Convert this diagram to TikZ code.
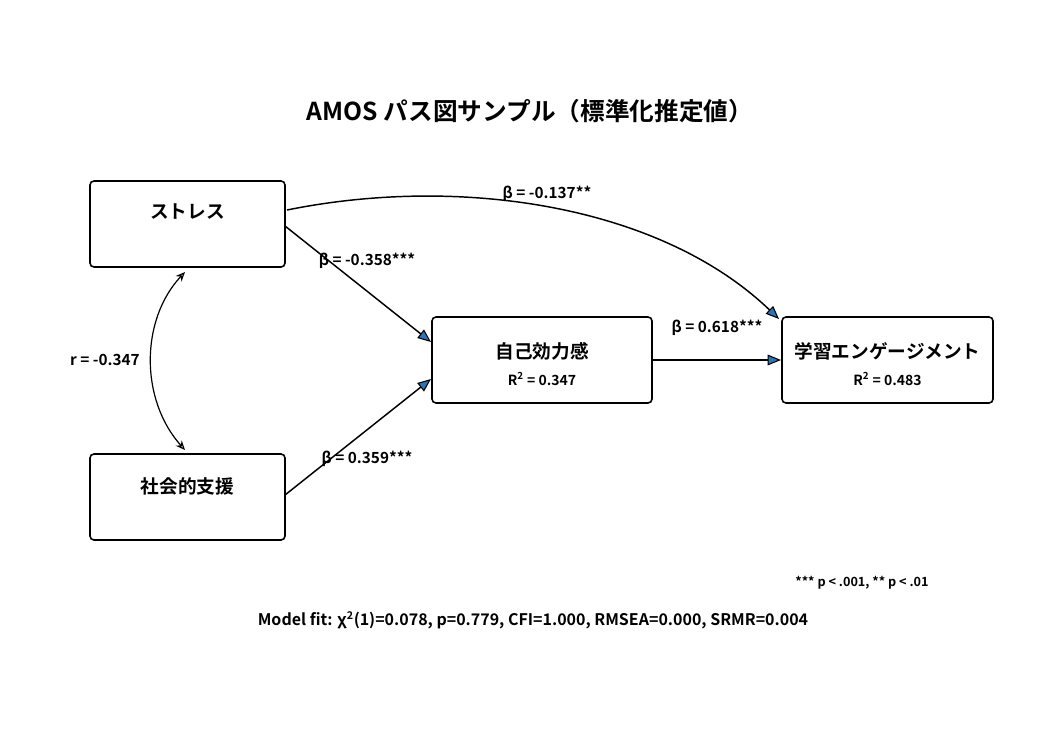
\documentclass[tikz,border=0pt]{standalone}
\usepackage{fontspec}
\setmainfont{Noto Sans CJK JP}[BoldFont={* Bold}]
\usetikzlibrary{arrows.meta}
\definecolor{ahead}{HTML}{2E75B6}
\begin{document}
\begin{tikzpicture}[x=0.75pt,y=-0.75pt,
 box/.style={draw,line width=1.2pt,rounded corners=3pt,fill=white},
 path/.style={line width=1.1pt,-{Triangle[length=10pt,width=8pt,fill=ahead,line width=0.8pt]}},
 lab/.style={font=\bfseries\fontsize{11.5}{12}\selectfont}]
\useasboundingbox (0,0) rectangle (1063,746);
\node[font=\bfseries\fontsize{18.5}{20}\selectfont] (title) at (530,111) {AMOS パス図サンプル（標準化推定値）};
\draw[box] (90,181) rectangle (285,267);
\draw[box] (90,454) rectangle (285,540);
\draw[box] (432,317) rectangle (652,403);
\draw[box] (782,317) rectangle (993,403);
\node[font=\bfseries\fontsize{14}{15}\selectfont] (s) at (187.5,212) {ストレス};
\node[font=\bfseries\fontsize{14}{15}\selectfont] (ss) at (187.5,486) {社会的支援};
\node[font=\bfseries\fontsize{14}{15}\selectfont] (se) at (542,351) {自己効力感};
\node[font=\bfseries\fontsize{10.5}{11}\selectfont] (ser) at (542,379) {R\textsuperscript{2} = 0.347};
\node[font=\bfseries\fontsize{14}{15}\selectfont] (le) at (887.5,351) {学習エンゲージメント};
\node[font=\bfseries\fontsize{10.5}{11}\selectfont] (ler) at (887.5,379) {R\textsuperscript{2} = 0.483};
\coordinate (a1) at (285,226); \coordinate (a2) at (431,342);
\coordinate (b1) at (285,495); \coordinate (b2) at (431,379);
\coordinate (c1) at (652,360); \coordinate (c2) at (781,360);
\coordinate (d1) at (287,210); \coordinate (d2) at (779,319);
\coordinate (e1) at (185,272); \coordinate (e2) at (185,450);
\draw[path] (a1) -- (a2);
\draw[path] (b1) -- (b2);
\draw[path] (c1) -- (c2);
\draw[path] (d1) .. controls (460,175) and (660,205) .. (d2);
\draw[line width=0.9pt,{Stealth[length=7pt,width=6pt,open]}-{Stealth[length=7pt,width=6pt,open]}] (e1) .. controls (140,320) and (140,400) .. (e2);
\node[lab] (l1) at (547,194) {β = -0.137**};
\node[lab] (l2) at (367,261) {β = -0.358***};
\node[lab] (l3) at (367,459) {β = 0.359***};
\node[lab] (l4) at (717,328) {β = 0.618***};
\node[lab] (l5) at (105,360) {r = -0.347};
\node[font=\bfseries\fontsize{9.5}{10}\selectfont] (fn) at (862,583) {*** p < .001, ** p < .01};
\node[font=\bfseries\fontsize{12}{13}\selectfont] (fit) at (533,620) {Model fit: χ\textsuperscript{2}(1)=0.078, p=0.779, CFI=1.000, RMSEA=0.000, SRMR=0.004};
\end{tikzpicture}
\end{document}
